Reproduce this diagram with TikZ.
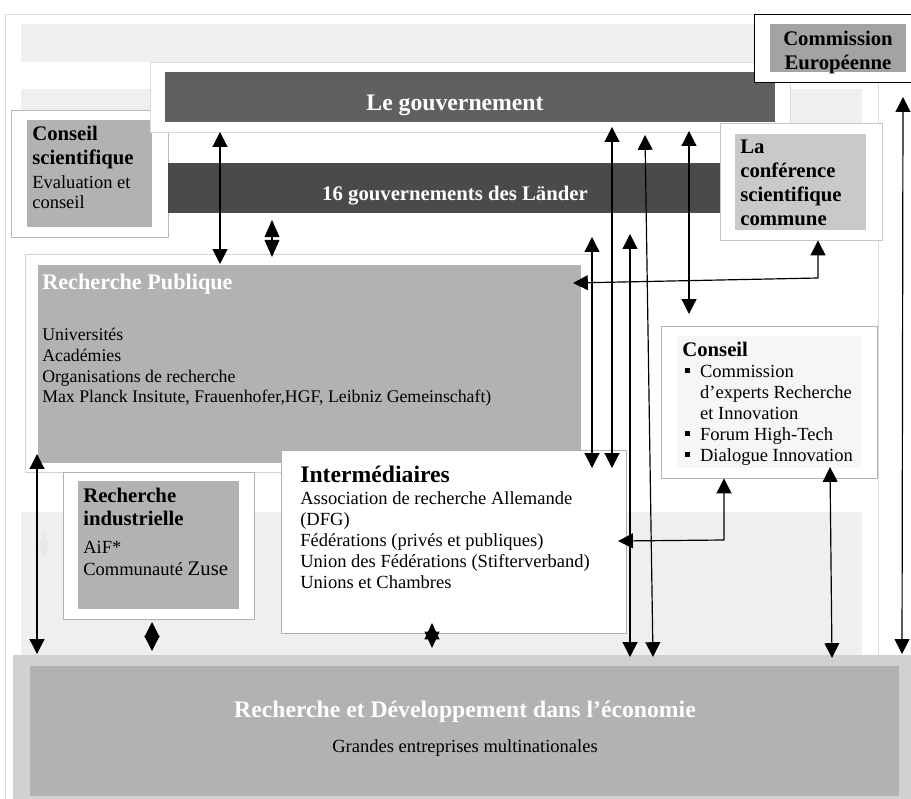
\documentclass[tikz,border=0pt]{standalone}
\usepackage{fontspec}
\setmainfont{Liberation Serif}
\usetikzlibrary{fit,arrows.meta}
\definecolor{bande}{HTML}{EFEFEF}
\definecolor{bord}{HTML}{DADADA}
\definecolor{gouvgris}{HTML}{606060}
\definecolor{landergris}{HTML}{4A4A4A}
\definecolor{moyen}{HTML}{B2B2B2}
\definecolor{cegris}{HTML}{A3A3A3}
\definecolor{confgris}{HTML}{C9C9C9}
\definecolor{pale}{HTML}{F6F6F6}
\definecolor{fondbas}{HTML}{D1D1D1}
\newcommand{\puce}{\makebox[10pt][l]{\rule[3.2pt]{3.4pt}{3.4pt}}}
\begin{document}
\begin{tikzpicture}[x=0.675pt,y=-0.675pt,line join=round,
  cadre/.style={draw=#1,fill=white,inner sep=0pt,line width=0.6pt},
  cadre/.default=gray!60,
  bloc/.style={fill=#1,inner sep=0pt},
  titre/.style={inner sep=0pt,anchor=north west,align=left,font=\fontsize{14}{16.2}\selectfont\bfseries},
  corps/.style={inner sep=0pt,anchor=north west,align=left,font=\fontsize{12.5}{14.2}\selectfont},
  fl/.style={{Triangle[width=10pt,length=#1]}-{Triangle[width=10pt,length=#1]},line width=0.8pt},
  fl/.default=10pt]
\useasboundingbox (0,0) rectangle (911,798);
% fonds
\draw[bord,fill=white] (5,14) rectangle (915,802);
\fill[bande] (21,24) rectangle (880,62);
\fill[bande] (21,89) rectangle (862,130);
\fill[bande] (21,512) rectangle (862,655);
\draw[bord] (878,82) -- (878,655);
\fill[gray!18] (44,532) -- (49,545) -- (44,558) -- (39,545) -- cycle;
% conseil scientifique
\node[cadre=gray!55,fit={(11,110) (168,237)}] (cs) {};
\node[bloc=moyen,fit={(27,120) (152,227)}] (csin) {};
\node[titre] (cst) at (32,126) {Conseil\\scientifique};
\node[corps,font=\fontsize{12.5}{13.5}\selectfont] (csc) at (32,175) {Evaluation et\\conseil};
% gouvernement
\node[cadre=bord,fit={(150,62) (790,132)}] (gouv) {};
\node[bloc=gouvgris,fit={(165,72) (775,122)}] (gouvbar) {};
\node[text=white,font=\fontsize{16}{19}\selectfont\bfseries,anchor=base] (gouvt) at (455,110) {Le gouvernement};
\node[bloc=landergris,fit={(168,163) (720,213)}] (lander) {};
\node[text=white,font=\fontsize{14}{17}\selectfont\bfseries,anchor=base] (landert) at (455,200) {16 gouvernements des Länder};
% commission
\node[cadre=black,fit={(754,14) (915,82)}] (ce) {};
\node[bloc=cegris,fit={(770,24) (906,72)}] (cein) {};
\node[titre,anchor=north,align=center] (cet) at (838,31) {Commission\\Européenne};
% conference
\node[cadre=gray!45,fit={(720,123) (882,240)}] (conf) {};
\node[bloc=confgris,fit={(735,134) (866,230)}] (confin) {};
\node[titre] (conft) at (740,140) {La\\conférence\\scientifique\\commune};
% recherche publique
\node[cadre=gray!35,fit={(25,254) (592,472)}] (rp) {};
\node[bloc=moyen,fit={(38,265) (581,463)}] (rpin) {};
\node[titre,text=white,font=\fontsize{15}{18}\selectfont\bfseries] (rpt) at (42,274) {Recherche Publique};
\node[corps,font=\fontsize{12}{14}\selectfont] (rpc) at (42,328) {Universités\\Académies\\Organisations de recherche\\Max Planck Insitute, Frauenhofer,HGF, Leibniz Gemeinschaft)};
% conseil
\node[cadre=gray!60,fit={(661,326) (877,478)}] (cons) {};
\node[bloc=pale,fit={(677,336) (861,468)}] (consin) {};
\node[titre] (const) at (682,342) {Conseil};
\node[corps] (consc) at (685,365) {\puce Commission\\\hspace*{10pt}d’experts Recherche\\\hspace*{10pt}et Innovation\\\puce Forum High-Tech\\\puce Dialogue Innovation};
% intermediaires
\node[cadre=gray!60,fit={(281,450) (626,633)}] (inter) {};
\node[titre,font=\fontsize{16}{19}\selectfont\bfseries] (intert) at (300,466) {Intermédiaires};
\node[corps] (interc) at (300,491) {Association de recherche Allemande\\(DFG)\\Fédérations (privés et publiques)\\Union des Fédérations (Stifterverband)\\Unions et Chambres};
% recherche industrielle
\node[cadre=gray!60,fit={(63,472) (254,619)}] (rind) {};
\node[bloc=moyen,fit={(78,481) (239,609)}] (rindin) {};
\node[titre,font=\fontsize{14}{15.5}\selectfont\bfseries] (rindt) at (83,488) {Recherche\\industrielle};
\node[corps,font=\fontsize{12.5}{14.8}\selectfont] (rindc) at (83,541) {AiF*\\Communauté {\fontsize{14}{14}\selectfont Zuse}};
% economie
\node[bloc=fondbas,fit={(13,655) (915,802)}] (rde) {};
\node[bloc=moyen,fit={(30,666) (899,796)}] (rdein) {};
\node[text=white,font=\fontsize{16}{19}\selectfont\bfseries,anchor=base] (rdet) at (465,717) {Recherche et Développement dans l’économie};
\node[font=\fontsize{12.5}{14}\selectfont,anchor=base] (rdec) at (465,752) {Grandes entreprises multinationales};
% fleches
\foreach \n/\x/\y in {a1/220/132, b1/220/264, a2/272/220, b2/272/257, a3/592/237, b3/592/468,
  a4/612/127, b4/612/468, a5/630/234, b5/630/657, a6/645/135, b6/653/657,
  a7/689/131, b7/689/314, a8/903/97, b8/902/654, a9/830/467, b9/832/658,
  a12/37/454, b12/37/654, a13/152/622, b13/152/651, a14/432/623, b14/432/648,
  r10/573/283, k10/818/278, r11/618/541, k11/724/540}
  \coordinate (\n) at (\x,\y);
\foreach \a/\b in {a1/b1, a3/b3, a4/b4, a5/b5, a6/b6, a7/b7, a8/b8, a9/b9, a12/b12, a13/b13}
  \draw[fl] (\a) -- (\b);
\draw[fl=11.5pt] (a2) -- (b2);
\draw[fl=11pt] (a14) -- (b14);
\draw[fl] (r10) -- (k10) -- (conf.south -| k10);
\draw[fl] (r11) -- (k11) -- (cons.south -| k11);
\end{tikzpicture}
\end{document}
